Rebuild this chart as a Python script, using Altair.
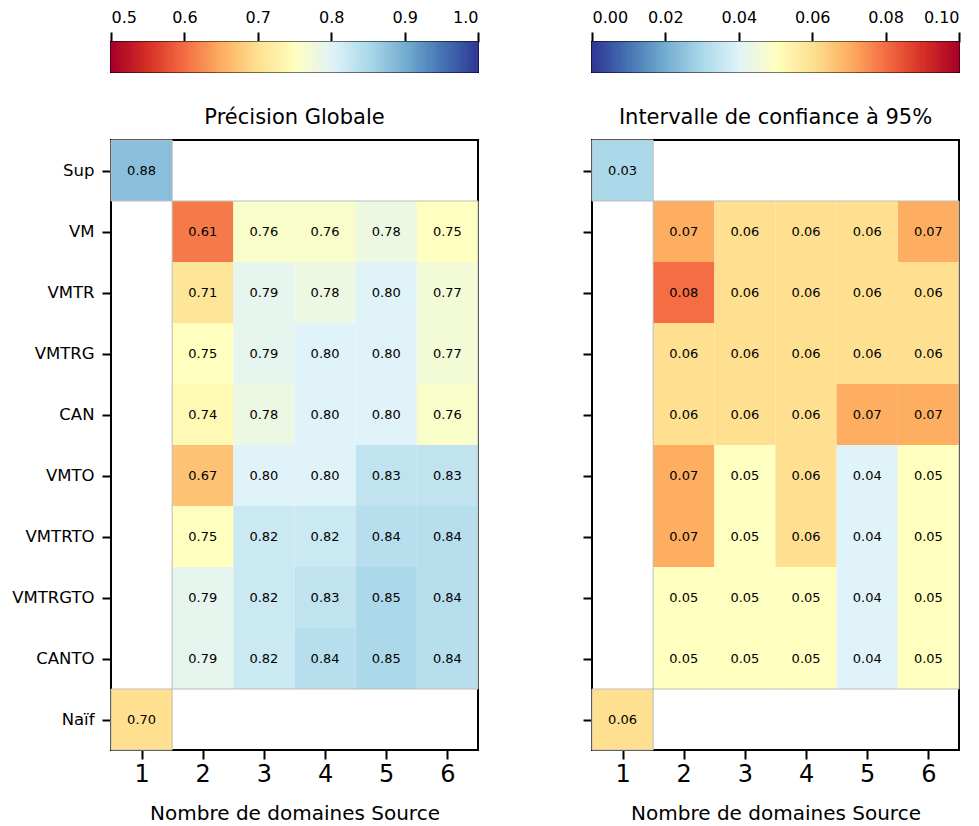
import altair as alt
import pandas as pd

# ---------------- data ----------------
row_names = ["Sup", "VM", "VMTR", "VMTRG", "CAN", "VMTO", "VMTRTO", "VMTRGTO", "CANTO", "Naïf"]
multi_rows = ["VM", "VMTR", "VMTRG", "CAN", "VMTO", "VMTRTO", "VMTRGTO", "CANTO"]
multi_cols = [2, 3, 4, 5, 6]

# Précision globale
acc_sup = [0.88]
acc_naif = [0.70]
acc_vm = [0.61, 0.76, 0.76, 0.78, 0.75]
acc_vmtr = [0.71, 0.79, 0.78, 0.80, 0.77]
acc_vmtrg = [0.75, 0.79, 0.80, 0.80, 0.77]
acc_can = [0.74, 0.78, 0.80, 0.80, 0.76]
acc_vmto = [0.67, 0.80, 0.80, 0.83, 0.83]
acc_vmtrto = [0.75, 0.82, 0.82, 0.84, 0.84]
acc_vmtrgto = [0.79, 0.82, 0.83, 0.85, 0.84]
acc_canto = [0.79, 0.82, 0.84, 0.85, 0.84]

# Intervalle de confiance à 95%
ci_sup = [0.03]
ci_naif = [0.06]
ci_vm = [0.07, 0.06, 0.06, 0.06, 0.07]
ci_vmtr = [0.08, 0.06, 0.06, 0.06, 0.06]
ci_vmtrg = [0.06, 0.06, 0.06, 0.06, 0.06]
ci_can = [0.06, 0.06, 0.06, 0.07, 0.07]
ci_vmto = [0.07, 0.05, 0.06, 0.04, 0.05]
ci_vmtrto = [0.07, 0.05, 0.06, 0.04, 0.05]
ci_vmtrgto = [0.05, 0.05, 0.05, 0.04, 0.05]
ci_canto = [0.05, 0.05, 0.05, 0.04, 0.05]

acc_rows = [acc_vm, acc_vmtr, acc_vmtrg, acc_can, acc_vmto, acc_vmtrto, acc_vmtrgto, acc_canto]
ci_rows = [ci_vm, ci_vmtr, ci_vmtrg, ci_can, ci_vmto, ci_vmtrto, ci_vmtrgto, ci_canto]

records = []
records.append(dict(row="Sup", ri=1, col=1, block="sup", acc=acc_sup[0], ci=ci_sup[0]))
for name, a_vals, c_vals in zip(multi_rows, acc_rows, ci_rows):
    for c, a, ci in zip(multi_cols, a_vals, c_vals):
        records.append(dict(row=name, ri=row_names.index(name) + 1, col=c, block="multi", acc=a, ci=ci))
records.append(dict(row="Naïf", ri=10, col=1, block="naif", acc=acc_naif[0], ci=ci_naif[0]))
df = pd.DataFrame(records)

# matplotlib RdYlBu (linear interpolation between the 11 ColorBrewer stops)
rdylbu = ["#a50026", "#d73027", "#f46d43", "#fdae61", "#fee090", "#ffffbf",
          "#e0f3f8", "#abd9e9", "#74add1", "#4575b4", "#313695"]

FONT = "DejaVu Sans"
W, H = 367, 610
CB_H = 30


def stops(lo, hi):
    return [lo + (hi - lo) * i / 10 for i in range(11)]


def color_scale(lo, hi, reverse=False):
    rng = rdylbu[::-1] if reverse else rdylbu
    return alt.Scale(domain=stops(lo, hi), range=rng, interpolate="rgb", clamp=True)


label_expr = "[" + ",".join("'" + n + "'" for n in row_names) + "][datum.value - 1]"


def colorbar(lo, hi, step, ticks, fmt, reverse):
    cs = color_scale(lo, hi, reverse)
    return (
        alt.Chart(alt.sequence(lo, hi, step, as_="v"))
        .transform_calculate(v2=f"datum.v + {step}")
        .mark_rect()
        .encode(
            x=alt.X("v:Q", scale=alt.Scale(domain=[lo, hi], nice=False, zero=False),
                    axis=alt.Axis(orient="top", values=ticks, format=fmt, title=None,
                                  grid=False, domain=False, tickColor="black", tickWidth=2,
                                  tickSize=10, labelFontSize=16, labelColor="black",
                                  labelPadding=7, labelFont=FONT)),
            x2="v2:Q",
            color=alt.Color("v:Q", scale=cs, legend=None),
            stroke=alt.Stroke("v:Q", scale=cs, legend=None),
        )
        .properties(width=W, height=CB_H)
    )


def heatmap(field, lo, hi, reverse, title, show_labels):
    cs = color_scale(lo, hi, reverse)
    xs = alt.Scale(domain=[0.5, 6.5], nice=False, zero=False)
    ys = alt.Scale(domain=[0.5, 10.5], nice=False, zero=False, reverse=True)
    xaxis = alt.Axis(values=[1, 2, 3, 4, 5, 6], format="d", title="Nombre de domaines Source",
                     grid=False, domain=False, tickColor="black", tickWidth=2, tickSize=9,
                     labelFontSize=24, labelColor="black", labelPadding=3,
                     titleFontSize=20, titleFontWeight="normal", titleColor="black",
                     titlePadding=17, labelFont=FONT, titleFont=FONT)
    yaxis = alt.Axis(values=list(range(1, 11)), labelExpr=label_expr, title=None,
                     grid=False, domain=False, tickColor="black", tickWidth=2, tickSize=9,
                     labelFontSize=16.5, labelColor="black", labelPadding=8,
                     labels=show_labels, labelFont=FONT)
    base = alt.Chart(df).transform_calculate(
        x0="datum.col - 0.5", x1="datum.col + 0.5",
        y0="datum.ri - 0.5", y1="datum.ri + 0.5",
    )
    rect = base.mark_rect().encode(
        x=alt.X("x0:Q", scale=xs, axis=xaxis),
        x2="x1:Q",
        y=alt.Y("y0:Q", scale=ys, axis=yaxis),
        y2="y1:Q",
        color=alt.Color(f"{field}:Q", scale=cs, legend=None),
    )
    outline = base.transform_aggregate(
        bx0="min(x0)", bx1="max(x1)", by0="min(y0)", by1="max(y1)", groupby=["block"]
    ).mark_rect(fillOpacity=0, stroke="#bdbdbd", strokeWidth=1).encode(
        x="bx0:Q", x2="bx1:Q", y="by0:Q", y2="by1:Q"
    )
    text = base.mark_text(fontSize=13, color="black", font=FONT).encode(
        x="col:Q", y="ri:Q", text=alt.Text(f"{field}:Q", format=".2f")
    )
    return (rect + outline + text).properties(
        width=W, height=H,
        title=alt.TitleParams(title, fontSize=21, fontWeight="normal", font=FONT,
                              color="black", offset=12),
    )


left = alt.vconcat(
    colorbar(0.5, 1.0, 0.0025, [0.5, 0.6, 0.7, 0.8, 0.9, 1.0], ".1f", False),
    heatmap("acc", 0.5, 1.0, False, "Précision Globale", True),
    spacing=31,
).resolve_scale(color="independent", x="independent", y="independent", stroke="independent")

right = alt.vconcat(
    colorbar(0.0, 0.1, 0.0005, [0.0, 0.02, 0.04, 0.06, 0.08, 0.1], ".2f", True),
    heatmap("ci", 0.0, 0.1, True, "Intervalle de confiance à 95%", False),
    spacing=31,
).resolve_scale(color="independent", x="independent", y="independent", stroke="independent")

chart = (
    alt.hconcat(left, right, spacing=101)
    .resolve_scale(color="independent", x="independent", y="independent", stroke="independent")
    .properties(padding={"left": 2, "top": 0, "right": 2, "bottom": 0})
    .configure(font=FONT)
    .configure_view(stroke="black", strokeWidth=2)
)

chart.save("out.html", embed_options={"renderer": "svg", "actions": False})
